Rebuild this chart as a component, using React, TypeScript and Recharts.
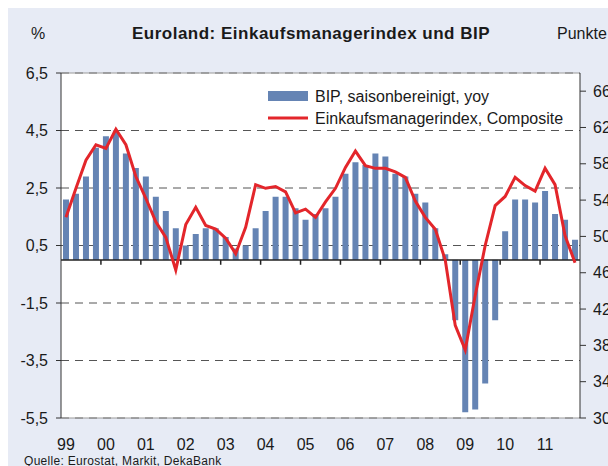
import React from 'react'
import { ComposedChart, Bar, Line, XAxis, YAxis, CartesianGrid, ReferenceLine } from 'recharts'

// quarterly data, 1999 Q1 - 2011 Q4
const years = ['99', '00', '01', '02', '03', '04', '05', '06', '07', '08', '09', '10', '11']
const quarters = ['Q1', 'Q2', 'Q3', 'Q4']

// BIP, saisonbereinigt, yoy (%)
const bipValues = [
  2.1, 2.3, 2.9, 3.9,
  4.3, 4.5, 3.7, 3.2,
  2.9, 2.2, 1.7, 1.1,
  0.5, 0.9, 1.1, 1.1,
  0.8, 0.4, 0.5, 1.1,
  1.7, 2.2, 2.2, 1.8,
  1.4, 1.6, 1.8, 2.2,
  3.0, 3.4, 3.3, 3.7,
  3.6, 3.0, 2.9, 2.3,
  2.0, 1.1, 0.2, -2.1,
  -5.3, -5.2, -4.3, -2.1,
  1.0, 2.1, 2.1, 2.0,
  2.4, 1.6, 1.4, 0.7,
]

// Einkaufsmanagerindex, Composite (Punkte)
const pmiValues = [
  52.1, 55.3, 58.4, 60.1,
  59.7, 61.8, 60.1, 56.6,
  54.2, 51.6, 49.9, 46.3,
  51.3, 53.2, 51.2, 50.8,
  49.8, 48.1, 51.0, 55.7,
  55.3, 55.5, 54.9, 52.6,
  53.0, 52.1, 53.8, 55.3,
  57.6, 59.4, 57.8, 57.5,
  57.5, 57.1, 56.5, 53.9,
  52.1, 50.8, 47.4, 40.2,
  37.5, 43.5, 49.0, 53.4,
  54.4, 56.5, 55.6, 55.0,
  57.5, 55.7, 50.1, 47.1,
]

const leftTicks = [-5.5, -3.5, -1.5, 0.5, 2.5, 4.5, 6.5]
const rightTicks = [30, 34, 38, 42, 46, 50, 54, 58, 62, 66]

const title = 'Euroland: Einkaufsmanagerindex und BIP'
const leftUnit = '%'
const rightUnit = 'Punkte'
const source = 'Quelle: Eurostat, Markit, DekaBank'
const bipLabel = 'BIP, saisonbereinigt, yoy'
const pmiLabel = 'Einkaufsmanagerindex, Composite'

const BAR_COLOR = '#6584b4'
const LINE_COLOR = '#e3262b'
const BG = '#e7ebf5'
const FONT = '"Liberation Sans", Arial, sans-serif'

const chartData = years.flatMap((year, yi) =>
  quarters.map((q, qi) => ({
    quarter: `${year}${q}`,
    year,
    bip: bipValues[yi * 4 + qi],
    pmi: pmiValues[yi * 4 + qi],
  }))
)

const YearTick = ({ x, y, payload }: any) => (
  <text x={x} y={y + 32} textAnchor="middle" fill="#1a1a1a" fontSize={16} fontFamily={FONT}>
    {String(payload.value).slice(0, 2)}
  </text>
)

const App: React.FC = () => {
  return (
    <div style={{ position: 'absolute', left: 8, top: 8, width: 600, height: 458, background: BG, fontFamily: FONT }}>
      <ComposedChart
        width={600}
        height={458}
        data={chartData}
        margin={{ top: 65, right: 0, left: 0, bottom: 0 }}
        barCategoryGap={0}
      >
        <CartesianGrid
          yAxisId="left"
          vertical={false}
          stroke="#555"
          strokeDasharray="8 6"
          fill="#ffffff"
          fillOpacity={1}
        />
        <XAxis
          dataKey="quarter"
          interval={3}
          axisLine={false}
          tickLine={false}
          tickSize={0}
          tickMargin={0}
          height={48}
          tick={<YearTick />}
        />
        <YAxis
          yAxisId="left"
          domain={[-5.5, 6.5]}
          ticks={leftTicks}
          width={53}
          stroke="#333"
          tickSize={5}
          tickMargin={8}
          tick={{ fill: '#1a1a1a', fontSize: 16, fontFamily: FONT }}
          tickFormatter={(v: number) => v.toFixed(1).replace('.', ',')}
          allowDataOverflow
        />
        <YAxis
          yAxisId="right"
          orientation="right"
          domain={[30, 68]}
          ticks={rightTicks}
          width={28}
          stroke="#333"
          tickSize={6}
          tickMargin={7}
          tick={{ fill: '#1a1a1a', fontSize: 16, fontFamily: FONT, textAnchor: 'start' }}
          allowDataOverflow
        />
        <ReferenceLine yAxisId="left" y={6.5} stroke="#9a9a9a" />
        <ReferenceLine yAxisId="left" y={-5.5} stroke="#9a9a9a" />
        <Bar yAxisId="left" dataKey="bip" fill={BAR_COLOR} barSize={6} isAnimationActive={false} />
        <ReferenceLine yAxisId="left" y={0} stroke="#222" strokeWidth={1.5} />
        {years.slice(1).map((year) => (
          <ReferenceLine
            key={year}
            yAxisId="left"
            position="start"
            segment={[
              { x: `${year}Q1`, y: 0 },
              { x: `${year}Q1`, y: -0.17 },
            ]}
            stroke="#222"
            strokeWidth={1.5}
          />
        ))}
        <Line
          yAxisId="right"
          type="linear"
          dataKey="pmi"
          stroke={LINE_COLOR}
          strokeWidth={3}
          dot={false}
          activeDot={false}
          isAnimationActive={false}
        />
      </ComposedChart>

      <svg width={600} height={458} style={{ position: 'absolute', left: 0, top: 0, pointerEvents: 'none' }}>
        <text x={30} y={31} textAnchor="middle" fontSize={16} fill="#1a1a1a">{leftUnit}</text>
        <text x={303} y={31} textAnchor="middle" fontSize={17} fontWeight="bold" letterSpacing={0.5} fill="#1a1a1a">{title}</text>
        <text x={549} y={31} fontSize={16} fill="#1a1a1a">{rightUnit}</text>
        <text x={16} y={457} fontSize={12} letterSpacing={0.3} fill="#1a1a1a">{source}</text>

        <rect x={260} y={83} width={40} height={10} fill={BAR_COLOR} />
        <text x={307} y={94} fontSize={16} fill="#1a1a1a">{bipLabel}</text>
        <line x1={260} y1={110} x2={300} y2={110} stroke={LINE_COLOR} strokeWidth={3} />
        <text x={307} y={116} fontSize={16} fill="#1a1a1a">{pmiLabel}</text>
      </svg>
    </div>
  )
}

export default App
